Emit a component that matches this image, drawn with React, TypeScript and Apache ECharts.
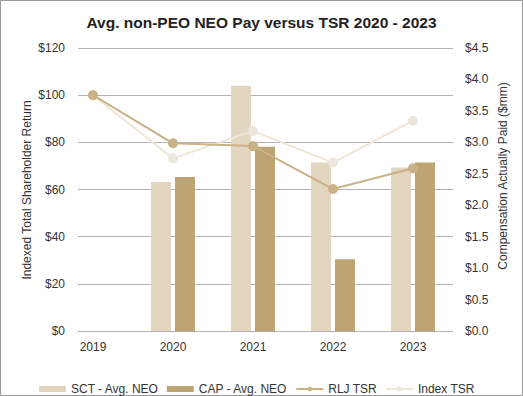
import React, { useEffect, useRef } from "react";
import * as echarts from "echarts";

const years = [2019, 2020, 2021, 2022, 2023];
const sctAvgNeo: (number | null)[] = [null, 2.37, 3.9, 2.68, 2.6];
const capAvgNeo: (number | null)[] = [null, 2.45, 2.93, 1.14, 2.68];
const rljTsr = [100, 79.6, 78.4, 60.2, 69.0];
const indexTsr = [100, 73.2, 84.8, 71.4, 89.2];

const FONT = "Liberation Sans, Arial, Helvetica, sans-serif";

export default function App() {
  const ref = useRef<HTMLDivElement>(null);
  useEffect(() => {
    if (!ref.current) return;
    const chart = echarts.init(ref.current, undefined, { renderer: "svg" });
    const pair = (arr: (number | null)[]) =>
      years.map((y, i) => [y, arr[i]]).filter((d) => d[1] !== null);
    chart.setOption({
      animation: false,
      textStyle: { fontFamily: FONT },
      title: {
        text: "Avg. non-PEO NEO Pay versus TSR 2020 - 2023",
        left: "center",
        top: 9,
        textStyle: { fontSize: 15.5, fontWeight: "bold", color: "#222", fontFamily: FONT },
      },
      graphic: [
        {
          type: "rect",
          shape: { x: 0.5, y: 0.5, width: 522, height: 395 },
          style: { fill: "none", stroke: "#9a9a9a", lineWidth: 1 },
          silent: true,
        },
        {
          type: "text",
          x: 27,
          y: 190,
          rotation: Math.PI / 2,
          silent: true,
          style: {
            text: "Indexed Total Shareholder Return",
            fontSize: 12,
            fontFamily: FONT,
            fill: "#333",
            align: "center",
            verticalAlign: "middle",
          },
        },
        {
          type: "text",
          x: 503,
          y: 176,
          rotation: Math.PI / 2,
          silent: true,
          style: {
            text: "Compensation Actually Paid ($mm)",
            fontSize: 12,
            fontFamily: FONT,
            fill: "#333",
            align: "center",
            verticalAlign: "middle",
          },
        },
      ],
      legend: {
        top: 378,
        left: 34,
        itemGap: 8,
        itemWidth: 27,
        itemHeight: 6,
        textStyle: { fontSize: 12, color: "#333", fontFamily: FONT },
        data: [
          { name: "SCT - Avg. NEO", icon: "rect" },
          { name: "CAP - Avg. NEO", icon: "rect" },
          { name: "RLJ TSR" },
          { name: "Index TSR" },
        ],
      },
      grid: { left: 78, right: 70, top: 48, bottom: 65, outerBoundsMode: "none", containLabel: false },
      xAxis: {
        type: "value",
        min: 2018.8125,
        max: 2023.5,
        splitLine: { show: false },
        axisLine: { show: false },
        axisTick: { show: false },
        axisLabel: {
          customValues: years,
          formatter: (v: number) => String(v),
          fontSize: 12,
          color: "#333",
          margin: 10,
        },
      },
      yAxis: [
        {
          type: "value",
          min: 0,
          max: 120,
          interval: 20,
          axisLabel: { formatter: (v: number) => "$" + v, fontSize: 12, color: "#333", margin: 13 },
          splitLine: { lineStyle: { color: "#b3b3b3", width: 1 } },
          axisLine: { show: false },
          axisTick: { show: false },
        },
        {
          type: "value",
          min: 0,
          max: 4.5,
          interval: 0.5,
          axisLabel: { formatter: (v: number) => "$" + v.toFixed(1), fontSize: 12, color: "#333", margin: 12 },
          splitLine: { show: false },
          axisLine: { show: false },
          axisTick: { show: false },
        },
      ],
      series: [
        {
          name: "SCT - Avg. NEO",
          type: "bar",
          yAxisIndex: 1,
          barWidth: 20,
          barGap: "20%",
          itemStyle: { color: "#e2d6c1" },
          data: pair(sctAvgNeo),
        },
        {
          name: "CAP - Avg. NEO",
          type: "bar",
          yAxisIndex: 1,
          barWidth: 20,
          barGap: "20%",
          itemStyle: { color: "#bda474" },
          data: pair(capAvgNeo),
        },
        {
          name: "Index TSR",
          type: "line",
          yAxisIndex: 0,
          symbol: "circle",
          symbolSize: 10,
          lineStyle: { color: "#ede6da", width: 2 },
          itemStyle: { color: "#ede6da" },
          data: years.map((y, i) => [y, indexTsr[i]]),
        },
        {
          name: "RLJ TSR",
          type: "line",
          yAxisIndex: 0,
          symbol: "circle",
          symbolSize: 10,
          lineStyle: { color: "#c9b285", width: 2 },
          itemStyle: { color: "#c9b285" },
          data: years.map((y, i) => [y, rljTsr[i]]),
        },
      ],
    });
    return () => chart.dispose();
  }, []);
  return (
    <div
      ref={ref}
      style={{ position: "absolute", left: 0, top: 0, width: 523, height: 396, background: "#fff" }}
    />
  );
}
